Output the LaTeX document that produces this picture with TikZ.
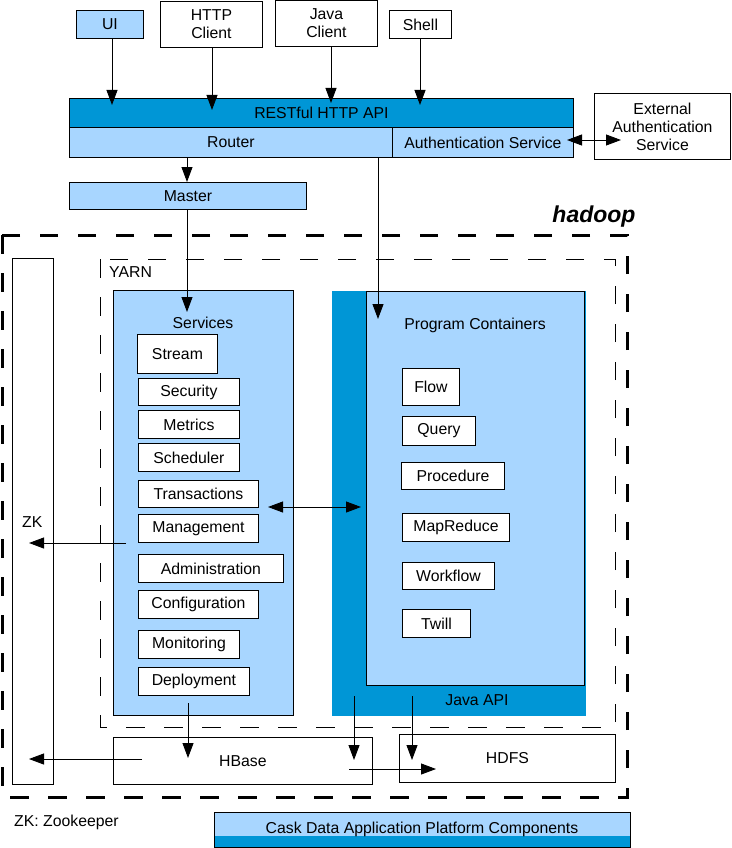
\documentclass[tikz,border=0pt]{standalone}
\usepackage{fontspec}
\setmainfont{Liberation Sans}
\usetikzlibrary{arrows.meta}
\definecolor{lb}{RGB}{168,214,255}
\definecolor{db}{RGB}{0,150,214}
\newcommand\bx[7]{\node[bx,#6,minimum width={(#4-#2)*1pt},minimum height={(#5-#3)*1pt}] (#1) at (#2,#3) {#7};}
\begin{document}
\begin{tikzpicture}[x=1pt,y=-1pt,font=\fontsize{15.8}{18}\selectfont,
  bx/.style={draw,line width=0.9pt,inner sep=0pt,anchor=north west,align=center},
  arr/.style={line width=0.9pt,-{Triangle[length=15pt,width=11pt]}},
  darr/.style={line width=0.9pt,{Triangle[length=15pt,width=11pt]}-{Triangle[length=15pt,width=11pt]}},
  thickdash/.style={line width=3pt,dash pattern=on 18.5pt off 19.5pt},
  thindash/.style={line width=0.9pt,dash pattern=on 18.5pt off 19.5pt},
  lbl/.style={inner sep=0pt}]
\useasboundingbox (0,0) rectangle (731,848);
\fill[white] (0,0) rectangle (731,848);

% dashed containers
\draw[thickdash] (2,235) rectangle (627,797);
\draw[thindash] (100,259) rectangle (615,727);
\node[lbl,anchor=base,font=\fontsize{23}{26}\selectfont\bfseries\itshape] (hadooplbl) at (594,222) {hadoop};
\node[lbl,anchor=base west] (yarnlbl) at (109,277) {YARN};

% clients
\bx{ui}{76}{10}{143}{38}{fill=lb}{UI}
\bx{http}{160}{1}{262}{47}{fill=white}{HTTP\\Client}
\bx{java}{275}{0}{377}{46}{fill=white}{Java\\Client}
\bx{shell}{389}{10}{451}{38}{fill=white}{Shell}

% API layer
\bx{rest}{69}{98}{573}{127}{fill=db}{RESTful HTTP API}
\bx{router}{69}{127}{392}{157}{fill=lb}{Router}
\bx{auth}{392}{127}{573}{157}{fill=lb}{Authentication Service}
\bx{ext}{594}{93}{730}{159}{fill=white}{External\\Authentication\\Service}
\bx{master}{69}{182}{306}{209}{fill=lb}{Master}

% ZK
\bx{zk}{12}{258}{53}{784}{fill=white}{}
\node[lbl,anchor=base west] (zklbl) at (22,527) {ZK};

% Services
\bx{services}{113}{290}{293}{715}{fill=lb}{}
\node[lbl,anchor=base] (serviceslbl) at (203,328) {Services};
\bx{stream}{137}{334}{217}{373}{fill=white}{Stream}
\bx{security}{138}{378}{239}{405}{fill=white}{Security}
\bx{metrics}{138}{410}{239}{438}{fill=white}{Metrics}
\bx{scheduler}{138}{443}{239}{471}{fill=white}{Scheduler}
\bx{transactions}{138}{480}{258}{507}{fill=white}{Transactions}
\bx{management}{138}{514}{258}{542}{fill=white}{Management}
\bx{administration}{138}{554}{283}{582}{fill=white}{Administration}
\bx{configuration}{138}{590}{258}{618}{fill=white}{Configuration}
\bx{monitoring}{138}{630}{239}{658}{fill=white}{Monitoring}
\bx{deployment}{138}{667}{249}{695}{fill=white}{Deployment}

% Program containers
\bx{pcdark}{332}{291}{586}{716}{fill=db,draw=none}{}
\bx{pc}{366}{291}{584}{685}{fill=lb}{}
\node[lbl,anchor=base] (pclbl) at (475,329) {Program Containers};
\node[lbl,anchor=base] (javaapi) at (477,705) {Java API};
\bx{flow}{402}{368}{459}{405}{fill=white}{Flow}
\bx{query}{402}{416}{475}{445}{fill=white}{Query}
\bx{procedure}{401}{462}{504}{489}{fill=white}{Procedure}
\bx{mapreduce}{402}{513}{509}{541}{fill=white}{MapReduce}
\bx{workflow}{402}{562}{494}{589}{fill=white}{Workflow}
\bx{twill}{402}{609}{470}{637}{fill=white}{Twill}

% storage
\bx{hbase}{113}{737}{372}{784}{fill=white}{HBase}
\bx{hdfs}{399}{734}{615}{782}{fill=white}{HDFS}

% legend
\node[lbl,anchor=base west] (zklegend) at (14,826) {ZK: Zookeeper};
\bx{legend}{214}{812}{630}{847}{fill=lb,draw=none}{}
\fill[db] (legend.south west) rectangle ([yshift=12pt]legend.south east);
\draw[line width=0.9pt] (legend.south west) rectangle (legend.north east);
\node[lbl,anchor=base] (legendlbl) at (422,833) {Cask Data Application Platform Components};

% connector end points
\coordinate (tui) at (112,105);
\coordinate (thttp) at (212,110);
\coordinate (tjava) at (331,103);
\coordinate (tshell) at (420,105);
\coordinate (cm) at (187,0);
\coordinate (tserv) at (187,312);
\coordinate (cpc) at (378,0);
\coordinate (tpc) at (378,319);
\coordinate (aL) at (567,140);
\coordinate (aR) at (621,140);
\coordinate (trL) at (268,507);
\coordinate (trR) at (361,507);
\coordinate (mgS) at (126,543);
\coordinate (zkT1) at (29,543);
\coordinate (dpS) at (188,703);
\coordinate (dpT) at (188,758);
\coordinate (j1S) at (354,696);
\coordinate (j1T) at (354,760);
\coordinate (j2S) at (412,696);
\coordinate (j2T) at (412,760);
\coordinate (hbS) at (142,759);
\coordinate (zkT2) at (29,759);
\coordinate (hhS) at (349,769);
\coordinate (hhT) at (436,769);

% connectors
\draw[arr] (tui |- ui.south) -- (tui);
\draw[arr] (thttp |- http.south) -- (thttp);
\draw[arr] (tjava |- java.south) -- (tjava);
\draw[arr] (tshell |- shell.south) -- (tshell);
\draw[arr] (cm |- router.south) -- (cm |- master.north);
\draw[arr] (cm |- master.south) -- (tserv);
\draw[arr] (cpc |- router.south) -- (tpc);
\draw[darr] (aL) -- (aR);
\draw[darr] (trL) -- (trR);
\draw[arr] (mgS) -- (zkT1);
\draw[arr] (dpS) -- (dpT);
\draw[arr] (j1S) -- (j1T);
\draw[arr] (j2S) -- (j2T);
\draw[arr] (hbS) -- (zkT2);
\draw[arr] (hhS) -- (hhT);
\end{tikzpicture}
\end{document}
